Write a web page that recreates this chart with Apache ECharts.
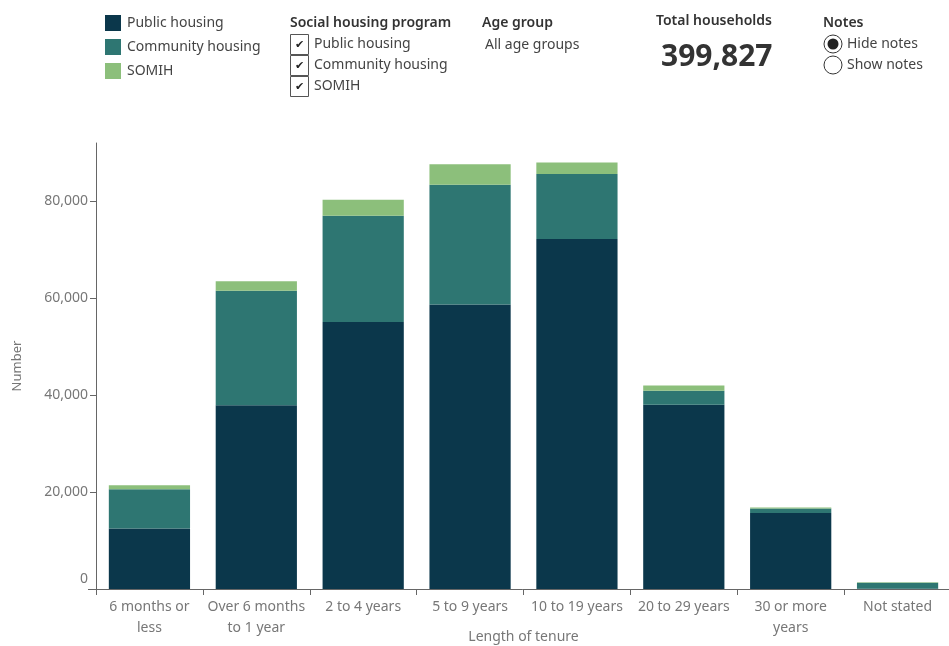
<!DOCTYPE html>
<html>
<head>
<meta charset="utf-8">
<script src="https://cdn.jsdelivr.net/npm/echarts@6/dist/echarts.min.js"></script>
<style>
  html, body { margin: 0; padding: 0; background: #fff; }
  #chart { width: 949px; height: 646px; }
</style>
</head>
<body>
<div id="chart"></div>
<script>
// Households by length of tenure, stacked by social housing program
const categories = [
  '6 months or\nless', 'Over 6 months\nto 1 year', '2 to 4 years', '5 to 9 years',
  '10 to 19 years', '20 to 29 years', '30 or more\nyears', 'Not stated'
];
const publicHousing    = [12500, 37900, 55100, 58700, 72200, 38000, 15700, 50];
const communityHousing = [8100, 23600, 21900, 24700, 13400, 2900, 900, 1250];
const somih            = [800, 2000, 3300, 4200, 2400, 1100, 200, 100];
const yTicks = [0, 20000, 40000, 60000, 80000];
const totalHouseholds = '399,827';

const FONT = '"Noto Sans", sans-serif';
const colors = ['#0b374b', '#2e7672', '#8cbf7b'];

const chart = echarts.init(document.getElementById('chart'), null, { renderer: 'canvas' });

function barSeries(name, data, color) {
  return {
    name, type: 'bar', stack: 'total', data,
    barWidth: '76%',
    itemStyle: { color },
    emphasis: { disabled: true }
  };
}

const txt = (x, y, text, opt = {}) => ({
  type: 'text', x, y,
  style: Object.assign({ text, fill: '#333', font: '14px ' + FONT, textVerticalAlign: 'middle' }, opt)
});

const graphics = [
  txt(290, 23, 'Social housing program', { font: '600 14px ' + FONT }),
  txt(482, 23, 'Age group', { font: '600 14px ' + FONT }),
  txt(485, 45, 'All age groups', { fill: '#444' }),
  txt(656, 21.5, 'Total households', { font: '600 14px ' + FONT }),
  txt(661, 57, totalHouseholds, { font: 'bold 30px ' + FONT }),
  txt(823, 23, 'Notes', { font: '600 14px ' + FONT }),
  txt(847, 44, 'Hide notes', { fill: '#444' }),
  txt(847, 65, 'Show notes', { fill: '#444' })
];
['Public housing', 'Community housing', 'SOMIH'].forEach((label, i) => {
  const y = 34 + i * 21;
  graphics.push({ type: 'rect', shape: { x: 290.5, y: y + 0.5, width: 18, height: 20 },
    style: { fill: '#fff', stroke: '#555', lineWidth: 1 } });
  graphics.push({ type: 'text', x: 299.5, y: y + 11,
    style: { text: '✔', fill: '#222', font: '11px "DejaVu Sans"', textAlign: 'center', textVerticalAlign: 'middle' } });
  graphics.push({ type: 'text', x: 314, y: y + 10.5,
    style: { text: label, fill: '#444', font: '14px ' + FONT, textVerticalAlign: 'middle' } });
});
graphics.push({ type: 'circle', shape: { cx: 833, cy: 44, r: 9 }, style: { fill: '#fff', stroke: '#333', lineWidth: 1 } });
graphics.push({ type: 'circle', shape: { cx: 833, cy: 44, r: 5.5 }, style: { fill: '#222' } });
graphics.push({ type: 'circle', shape: { cx: 833, cy: 65, r: 9 }, style: { fill: '#fff', stroke: '#333', lineWidth: 1 } });
// axis crossing stubs
graphics.push({ type: 'line', shape: { x1: 88, y1: 589.5, x2: 96, y2: 589.5 }, style: { stroke: '#666', lineWidth: 1 } });
graphics.push({ type: 'line', shape: { x1: 96.5, y1: 589, x2: 96.5, y2: 595 }, style: { stroke: '#666', lineWidth: 1 } });

chart.setOption({
  animation: false,
  textStyle: { fontFamily: FONT },
  legend: {
    orient: 'vertical', left: 105, top: 15,
    itemWidth: 16, itemHeight: 16, itemGap: 8,
    icon: 'rect', selectedMode: false,
    textStyle: { fontSize: 14, color: '#444', fontFamily: FONT, padding: [0, 0, 0, 1] },
    padding: 0,
    data: ['Public housing', 'Community housing', 'SOMIH']
  },
  grid: { left: 96, top: 143, width: 855, bottom: 57, outerBoundsMode: 'none', containLabel: false },
  xAxis: {
    type: 'category', data: categories,
    name: 'Length of tenure', nameLocation: 'middle', nameGap: 41, nameMoveOverlap: false,
    nameTextStyle: { color: '#777', fontSize: 14, fontFamily: FONT },
    axisLine: { lineStyle: { color: '#666' } },
    axisTick: { show: true, interval: 0, length: 6, lineStyle: { color: '#666' } },
    axisLabel: { interval: 0, color: '#777', fontSize: 14, lineHeight: 21, margin: 8, fontFamily: FONT }
  },
  yAxis: {
    type: 'value', min: 0, max: 92000, interval: 20000,
    name: 'Number', nameLocation: 'middle', nameGap: 72, nameRotate: 90, nameMoveOverlap: false,
    nameTextStyle: { color: '#777', fontSize: 13, fontFamily: FONT },
    splitLine: { show: false },
    axisLine: { show: true, lineStyle: { color: '#666' } },
    axisTick: { show: true, length: 6, lineStyle: { color: '#666' }, customValues: yTicks.slice(1) },
    axisLabel: {
      color: '#777', fontSize: 14, margin: 8, fontFamily: FONT,
      customValues: yTicks,
      formatter: v => v === 0 ? '{z|0}' : v.toLocaleString('en-US'),
      rich: { z: { color: '#777', fontSize: 14, fontFamily: FONT, padding: [0, 0, 20, 0] } }
    }
  },
  series: [
    barSeries('Public housing', publicHousing, colors[0]),
    barSeries('Community housing', communityHousing, colors[1]),
    barSeries('SOMIH', somih, colors[2])
  ],
  graphic: graphics
});
</script>
</body>
</html>
